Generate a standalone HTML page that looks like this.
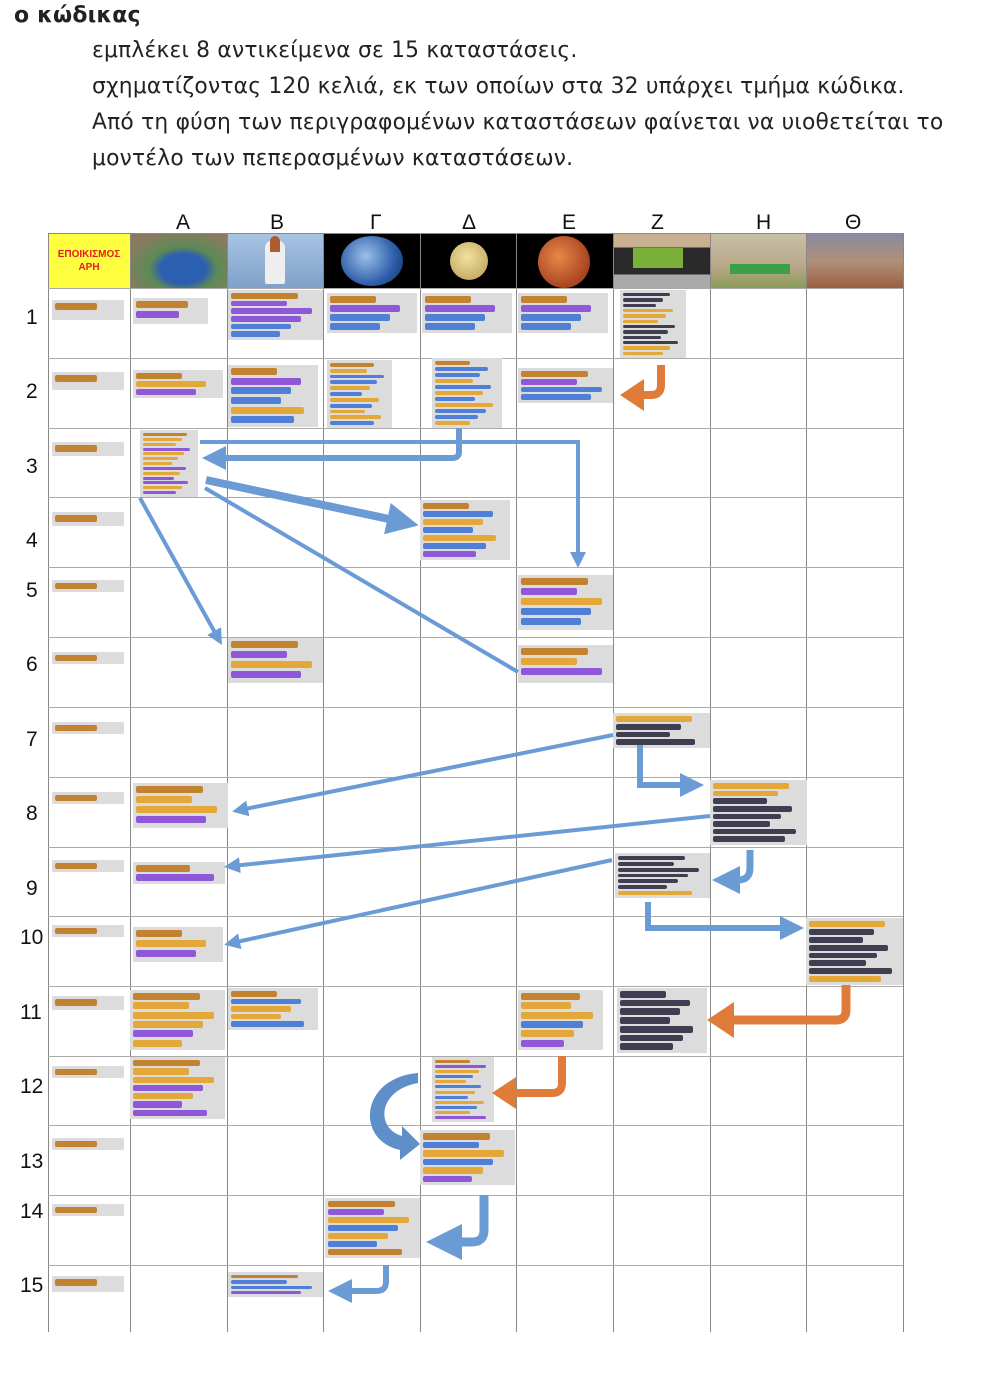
<!DOCTYPE html>
<html><head><meta charset="utf-8">
<style>
body{margin:0;width:982px;height:1388px;background:#fff;position:relative;overflow:hidden;font-family:"Liberation Sans","DejaVu Sans",sans-serif;}
.t{position:absolute;font-family:"DejaVu Sans","Liberation Sans",sans-serif;font-size:21.8px;color:#222;white-space:nowrap;letter-spacing:0.2px}
.g{position:absolute;background:#888}
.lab{position:absolute;font-size:21px;color:#111}
.blk{position:absolute;background:#dcdcdc;}
.bar{position:absolute;height:6px;border-radius:2px}
.img{position:absolute}
</style></head><body>
<div class="t" style="left:14px;top:3px;font-weight:bold;font-size:22px">ο κώδικας</div>
<div class="t" style="left:92px;top:38px">εμπλέκει 8 αντικείμενα σε 15 καταστάσεις.</div>
<div class="t" style="left:92px;top:74px">σχηματίζοντας 120 κελιά, εκ των οποίων στα 32 υπάρχει τμήμα κώδικα.</div>
<div class="t" style="left:92px;top:110px">Από τη φύση των περιγραφομένων καταστάσεων φαίνεται να υιοθετείται το</div>
<div class="t" style="left:92px;top:146px">μοντέλο των πεπερασμένων καταστάσεων.</div>

<!-- header images -->
<div class="img" style="left:48px;top:234px;width:82px;height:54px;background:#ffff40;color:#e02020;font-size:10px;font-weight:bold;text-align:center;line-height:13px;padding-top:14px;box-sizing:border-box">ΕΠΟΙΚΙΣΜΟΣ<br>ΑΡΗ</div>
<div class="img" style="left:130px;top:234px;width:97px;height:54px;background:radial-gradient(ellipse at 55% 65%,#2d5fb0 0 30%,#5c8a55 45%,#8a7a60 80%)"></div>
<div class="img" style="left:227px;top:234px;width:96px;height:54px;background:linear-gradient(#a8c4e4,#7fa0c8);"><div style="position:absolute;left:38px;top:6px;width:20px;height:44px;background:#eee;border-radius:8px 8px 2px 2px"></div><div style="position:absolute;left:43px;top:2px;width:10px;height:16px;background:#b05a30;border-radius:5px 5px 0 0"></div></div>
<div class="img" style="left:323px;top:234px;width:97px;height:54px;background:#000;"><div style="position:absolute;left:18px;top:2px;width:62px;height:50px;border-radius:50%;background:radial-gradient(circle at 40% 40%,#9cc0e8,#2d5ea8 60%,#123060)"></div></div>
<div class="img" style="left:420px;top:234px;width:96px;height:54px;background:#000;"><div style="position:absolute;left:30px;top:8px;width:38px;height:38px;border-radius:50%;background:radial-gradient(circle at 45% 40%,#f0e2a0,#b89a50)"></div></div>
<div class="img" style="left:516px;top:234px;width:97px;height:54px;background:#000;"><div style="position:absolute;left:22px;top:2px;width:52px;height:52px;border-radius:50%;background:radial-gradient(circle at 40% 40%,#e8884a,#a84420 70%)"></div></div>
<div class="img" style="left:613px;top:234px;width:97px;height:54px;background:linear-gradient(#c8b090 0 25%,#2a2a2a 25% 75%,#aaa 75%)"><div style="position:absolute;left:20px;top:14px;width:50px;height:20px;background:#7ab03a"></div></div>
<div class="img" style="left:710px;top:234px;width:96px;height:54px;background:linear-gradient(#c8c0a8,#b8a888 60%,#8a9a5a)"><div style="position:absolute;left:20px;top:30px;width:60px;height:10px;background:#3aa04a"></div></div>
<div class="img" style="left:806px;top:234px;width:97px;height:54px;background:linear-gradient(#8a8aa0,#b09078 50%,#9a6040)"></div>

<!-- grid -->
<div class="g" style="left:48px;top:233px;width:1px;height:1099px"></div>
<div class="g" style="left:130px;top:233px;width:1px;height:1099px"></div>
<div class="g" style="left:227px;top:233px;width:1px;height:1099px"></div>
<div class="g" style="left:323px;top:233px;width:1px;height:1099px"></div>
<div class="g" style="left:420px;top:233px;width:1px;height:1099px"></div>
<div class="g" style="left:516px;top:233px;width:1px;height:1099px"></div>
<div class="g" style="left:613px;top:233px;width:1px;height:1099px"></div>
<div class="g" style="left:710px;top:233px;width:1px;height:1099px"></div>
<div class="g" style="left:806px;top:233px;width:1px;height:1099px"></div>
<div class="g" style="left:903px;top:233px;width:1px;height:1099px"></div>
<div id="rows"></div>

<div class="lab" style="left:176px;top:211px">A</div>
<div class="lab" style="left:270px;top:211px">B</div>
<div class="lab" style="left:370px;top:211px">Γ</div>
<div class="lab" style="left:462px;top:211px">Δ</div>
<div class="lab" style="left:562px;top:211px">E</div>
<div class="lab" style="left:651px;top:211px">Z</div>
<div class="lab" style="left:756px;top:211px">H</div>
<div class="lab" style="left:845px;top:211px">Θ</div>

<div id="labs"></div>
<div id="blocks"></div>

<svg width="982" height="1388" style="position:absolute;left:0;top:0" xmlns="http://www.w3.org/2000/svg">
<defs>
<marker id="mb" markerWidth="4" markerHeight="4" refX="2" refY="2" orient="auto" markerUnits="strokeWidth"><path d="M0,0 L4,2 L0,4z" fill="#6b9bd5"/></marker>
<marker id="mo" markerWidth="3" markerHeight="4" refX="1" refY="2" orient="auto" markerUnits="strokeWidth"><path d="M0,0 L3,2 L0,4z" fill="#e07c3a"/></marker>
</defs>
<g fill="none" stroke="#6b9bd5" stroke-width="5">
<path d="M459,428 L459,452 Q459,458 452,458 L214,458" marker-end="url(#mb)" stroke-width="6"/>
<path d="M200,442 L578,442 L578,560" marker-end="url(#mb)" stroke-width="4"/>
<path d="M206,480 L403,522" marker-end="url(#mb)" stroke-width="8"/>
<path d="M205,488 L518,672" stroke-width="4"/>
<path d="M140,498 L218,638" marker-end="url(#mb)" stroke-width="4"/>
<path d="M613,735 L240,810" marker-end="url(#mb)" stroke-width="4"/>
<path d="M710,816 L232,866" marker-end="url(#mb)" stroke-width="4"/>
<path d="M612,860 L232,943" marker-end="url(#mb)" stroke-width="4"/>
<path d="M640,745 L640,785 L692,785" marker-end="url(#mb)" stroke-width="6"/>
<path d="M648,902 L648,928 L792,928" marker-end="url(#mb)" stroke-width="6"/>
<path d="M750,850 L750,868 Q750,880 738,880 L726,880" marker-end="url(#mb)" stroke-width="7"/>
<path d="M484,1195 L484,1230 Q484,1242 472,1242 L444,1242" marker-end="url(#mb)" stroke-width="9"/>
<path d="M386,1265 L386,1282 Q386,1291 376,1291 L340,1291" marker-end="url(#mb)" stroke-width="6"/>
</g>
<path d="M418,1073 C360,1078 355,1140 400,1150 L400,1160 L420,1144 L402,1126 L402,1136 C375,1128 378,1090 418,1083 Z" fill="#5f8fc8"/>
<g fill="none" stroke="#e07c3a" stroke-width="8">
<path d="M661,365 L661,385 Q661,395 651,395 L636,395" marker-end="url(#mo)"/>
<path d="M846,985 L846,1010 Q846,1020 836,1020 L725,1020" marker-end="url(#mo)" stroke-width="9"/>
<path d="M562,1056 L562,1083 Q562,1093 552,1093 L508,1093" marker-end="url(#mo)"/>
</g>
</svg>

<script>
var rows=[288,358,428,497,567,637,707,777,847,916,986,1056,1125,1195,1265];
var h='';
h+='<div class="g" style="left:48px;top:233px;width:855px;height:1px"></div>';
rows.forEach(function(y){h+='<div class="g" style="left:48px;top:'+y+'px;width:855px;height:1px;background:#aaa"></div>';});
document.getElementById('rows').innerHTML=h;
var ly=[318,392,467,541,591,665,740,814,889,938,1013,1087,1162,1212,1286];
h='';
ly.forEach(function(y,i){var n=i+1;h+='<div class="lab" style="left:'+(n>9?20:26)+'px;top:'+(y-12)+'px">'+n+'</div>';});
document.getElementById('labs').innerHTML=h;
var C={b:'#c2822f',y:'#e3a73a',p:'#8e58d8',u:'#4f7fd6',d:'#3e3e50'};
function blk(x,y,w,hh,seq){
 var s='<div class="blk" style="left:'+x+'px;top:'+y+'px;width:'+w+'px;height:'+hh+'px">';
 var n=seq.length, step=Math.min(10,(hh-4)/n), bh=Math.max(3,Math.min(7,step-2));
 for(var i=0;i<n;i++){var c=seq[i];var ww=(0.55+0.4*((i*37+w)%10)/10)*(w-6);
  if(i==0&&c=='b')ww=Math.min(ww,w*0.75);
  s+='<div class="bar" style="left:3px;top:'+(3+i*step)+'px;width:'+ww+'px;height:'+bh+'px;background:'+C[c]+'"></div>';}
 return s+'</div>';}
var B=[
[52,300,72,20,'b'],[133,298,75,26,'bp'],[228,290,95,50,'bpppuu'],[327,293,90,40,'bpuu'],[422,293,90,40,'bpuu'],[518,293,90,40,'bpuu'],[620,290,66,68,'dddyyyddddyy'],
[52,372,72,18,'b'],[133,370,90,28,'byp'],[228,365,90,62,'bpuuyu'],[327,360,65,68,'byuuyuyuyyu'],[432,358,70,70,'buuyuyuyuuy'],[518,368,95,35,'bpuu'],
[52,442,72,14,'b'],[140,430,58,67,'byypyyypyppyp'],
[52,512,72,14,'b'],[420,500,90,60,'buyuyup'],
[52,580,72,12,'b'],[518,575,95,55,'bpyuu'],
[52,652,72,12,'b'],[228,638,95,45,'bpyp'],[518,645,95,38,'byp'],
[52,722,72,12,'b'],[613,713,97,35,'yddd'],
[52,792,72,12,'b'],[133,783,95,45,'byyp'],[710,780,97,65,'yydddddd'],
[52,860,72,12,'b'],[133,862,92,22,'bp'],[615,853,95,45,'ddddddy'],
[52,925,72,12,'b'],[133,927,90,35,'byp'],[806,918,97,67,'yddddddy'],
[52,996,72,14,'b'],[130,990,95,60,'byyypy'],[228,988,90,42,'buyyu'],[518,990,85,60,'byyuyp'],[617,988,90,65,'ddddddd'],
[52,1066,72,12,'b'],[130,1057,95,62,'byypypp'],[432,1057,62,65,'bpyuyuyuyuyp'],
[52,1138,72,12,'b'],[420,1130,95,55,'buyuyp'],
[52,1204,72,12,'b'],[325,1198,95,60,'bpyuyub'],
[52,1276,72,16,'b'],[228,1272,95,25,'buup']];
h='';B.forEach(function(b){h+=blk(b[0],b[1],b[2],b[3],b[4]);});
document.getElementById('blocks').innerHTML=h;
</script>
</body></html>
